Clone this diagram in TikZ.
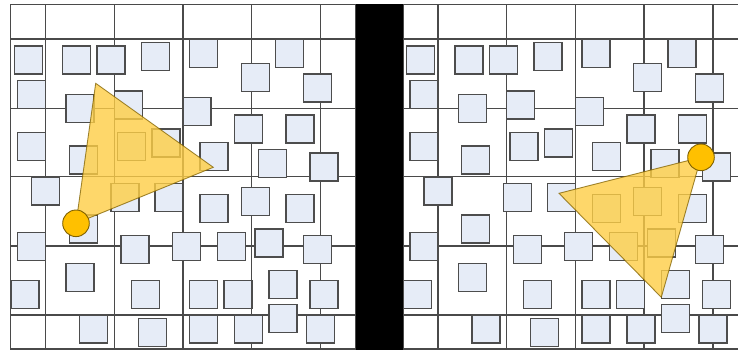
\documentclass[tikz,border=0pt]{standalone}
\definecolor{sqfill}{HTML}{E6ECF7}
\definecolor{sqline}{HTML}{4D4D4D}
\definecolor{gridc}{HTML}{4A4A4A}
\definecolor{trifill}{HTML}{FECE45}
\definecolor{tridraw}{HTML}{7F6000}
\definecolor{dotfill}{HTML}{FFC000}
\tikzset{
  gridline/.style={draw=gridc, line width=1.2pt},
  sqbox/.style={draw=sqline, fill=sqfill, line width=1.3pt},
  tri/.style={fill=trifill, fill opacity=0.8, draw=tridraw, draw opacity=0.75, line width=0.9pt, line join=miter},
  dot/.style={fill=dotfill, draw=tridraw, line width=0.9pt},
}
\newcommand\panelcontent{%
  \draw[gridline] (10.7,4.5) rectangle (356,349);
  \foreach \gx in {45.7,114.3,183,251.7,320.7} \draw[gridline] (\gx,4.5) -- (\gx,349);
  \foreach \gy in {39,108.3,176.7,246,315} \draw[gridline] (10.7,\gy) -- (356,\gy);
  \foreach \sx/\sy in {14.3/46, 62.7/46, 97/46, 141.7/42.7, 189.7/39.5, 241.3/63.3, 275.7/39.5, 303.3/74,
    17.7/80.7, 66/94.3, 114.3/91, 183/97.7, 17.7/132.3, 69.3/146, 117.7/132.3, 152/129, 200/142.7,
    234.7/115, 286/115, 258.7/149.3, 310/153, 31.7/177, 111/183.3, 155/183.3, 200/194.3, 241.3/187.3,
    286/194.3, 69.3/215, 17.7/232.3, 121/235.7, 172.3/232.3, 217.3/232.3, 255/229, 303.3/235.7,
    66/263.3, 11/280.7, 131.3/280.7, 189.7/280.7, 224/280.7, 269/270.3, 310/280.7,
    79.7/315, 138.3/318.3, 189.7/315, 234.7/315, 269/304.7, 306.7/315}
    \draw[sqbox] (\sx,\sy) rectangle ++(28,28);
}
\begin{document}
\begin{tikzpicture}[x=1pt,y=-1pt]
  \useasboundingbox (0,0) rectangle (738,354);
  \clip (0,0) rectangle (738,354);
  \fill[white] (0,0) rectangle (738,354);
  % left panel
  \begin{scope}
    \panelcontent
  \end{scope}
  % right panel
  \begin{scope}[xshift=392.3pt]
    \panelcontent
  \end{scope}
  % left triangle and point
  \coordinate (la) at (95.7,83.3);
  \coordinate (lb) at (213.3,167.3);
  \coordinate (lc) at (76,223.3);
  \draw[tri] (la) -- (lb) -- (lc) -- cycle;
  \node[dot, circle, minimum size=26.6pt, inner sep=0pt] (lp) at (lc) {};
  % right triangle and point
  \coordinate (ra) at (701,157.3);
  \coordinate (rb) at (559,193.3);
  \coordinate (rc) at (661.3,297.3);
  \draw[tri] (ra) -- (rb) -- (rc) -- cycle;
  \node[dot, circle, minimum size=26.6pt, inner sep=0pt] (rp) at (ra) {};
  % black separator
  \fill[black] (356,4.3) rectangle (402.7,350);
\end{tikzpicture}
\end{document}
